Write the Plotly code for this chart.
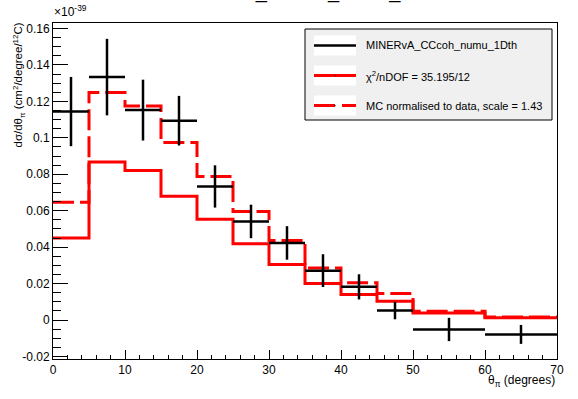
import plotly.graph_objects as go

# ---- data ----
bin_edges = [0, 5, 10, 15, 20, 25, 30, 35, 40, 45, 50, 60, 70]
data_y = [0.1144, 0.1333, 0.1152, 0.1094, 0.0733, 0.0541, 0.0423, 0.0271, 0.0182, 0.0052, -0.0052, -0.0079]
data_err = [0.0190, 0.0210, 0.0167, 0.0136, 0.0116, 0.0092, 0.0092, 0.0090, 0.0069, 0.0048, 0.0064, 0.0052]
mc_y = [0.0450, 0.0867, 0.0821, 0.0679, 0.0553, 0.0419, 0.0304, 0.0200, 0.0140, 0.0103, 0.0039, 0.0012]
mc_scaled_y = [0.0646, 0.1248, 0.1175, 0.0974, 0.0788, 0.0596, 0.0437, 0.0286, 0.0204, 0.0145, 0.0048, 0.0017]

y_tickvals = [-0.02, 0, 0.02, 0.04, 0.06, 0.08, 0.1, 0.12, 0.14, 0.16]
y_ticktext = ["-0.02", "0", "0.02", "0.04", "0.06", "0.08", "0.1", "0.12", "0.14", "0.16"]
x_tickvals = [0, 10, 20, 30, 40, 50, 60, 70]
x_ticktext = ["0", "10", "20", "30", "40", "50", "60", "70"]

legend_labels = ["MINERvA_CCcoh_numu_1Dth",
                 "χ<sup>2</sup>/nDOF = 35.195/12",
                 "MC normalised to data, scale = 1.43"]
title_text = "MINERvA_CCcoh_numu_1Dth"

FONT = "Liberation Sans, Arial, Helvetica, sans-serif"
W, H = 578, 399
L, R, T, B = 53, 21, 23, 40
PW, PH = W - L - R, H - T - B


def px_x(px):
    return (px - L) / PW


def px_y(py):
    return (H - B - py) / PH


centers = [(a + b) / 2 for a, b in zip(bin_edges[:-1], bin_edges[1:])]
halfw = [(b - a) / 2 for a, b in zip(bin_edges[:-1], bin_edges[1:])]

fig = go.Figure()

# MC histogram (solid)
fig.add_trace(go.Scatter(
    x=bin_edges, y=mc_y + [mc_y[-1]], mode="lines", line_shape="hv",
    line=dict(color="#ff0000", width=3), showlegend=False, hoverinfo="skip"))

# MC normalised (dashed)
fig.add_trace(go.Scatter(
    x=bin_edges, y=mc_scaled_y + [mc_scaled_y[-1]], mode="lines", line_shape="hv",
    line=dict(color="#ff0000", width=3, dash="21px,6px"), showlegend=False, hoverinfo="skip"))

# data crosses
fig.add_trace(go.Scatter(
    x=centers, y=data_y, mode="markers",
    marker=dict(size=1, color="black", opacity=0),
    error_x=dict(type="data", array=halfw, color="black", thickness=2.5, width=0),
    error_y=dict(type="data", array=data_err, color="black", thickness=2.5, width=0),
    showlegend=False, hoverinfo="skip"))

shapes = []
annotations = []

# legend box
shapes.append(dict(type="rect", xref="paper", yref="paper",
                   x0=px_x(305), x1=px_x(552), y0=px_y(120), y1=px_y(29),
                   fillcolor="#f0f0f0", line=dict(color="black", width=1)))
rows = [45.5, 75.5, 105.5]
for i, yc in enumerate(rows):
    shapes.append(dict(type="rect", xref="paper", yref="paper",
                       x0=px_x(314), x1=px_x(356), y0=px_y(yc + 10), y1=px_y(yc - 10),
                       fillcolor="white", line=dict(width=0)))
shapes.append(dict(type="line", xref="paper", yref="paper",
                   x0=px_x(314), x1=px_x(356), y0=px_y(rows[0]), y1=px_y(rows[0]),
                   line=dict(color="black", width=2.5)))
shapes.append(dict(type="line", xref="paper", yref="paper",
                   x0=px_x(314), x1=px_x(356), y0=px_y(rows[1]), y1=px_y(rows[1]),
                   line=dict(color="#ff0000", width=3)))
shapes.append(dict(type="line", xref="paper", yref="paper",
                   x0=px_x(314), x1=px_x(356), y0=px_y(rows[2]), y1=px_y(rows[2]),
                   line=dict(color="#ff0000", width=3, dash="21px,7px")))
for yc in rows[1:]:
    shapes.append(dict(type="rect", xref="paper", yref="paper",
                       x0=px_x(334.5), x1=px_x(335.5), y0=px_y(yc + 0.5), y1=px_y(yc - 0.5),
                       fillcolor="black", line=dict(width=0)))
for lab, yc in zip(legend_labels, rows):
    annotations.append(dict(xref="paper", yref="paper", x=px_x(364), y=px_y(yc),
                            xanchor="left", yanchor="middle", text=lab, showarrow=False,
                            font=dict(family=FONT, size=11, color="black")))

# title (mostly outside the canvas, as in the reference)
annotations.append(dict(xref="paper", yref="paper", x=0.5, y=px_y(5),
                        xanchor="center", yanchor="bottom", text=title_text, showarrow=False,
                        font=dict(family=FONT, size=20, color="black")))

# exponent label
annotations.append(dict(xref="paper", yref="paper", x=px_x(52), y=px_y(21),
                        xanchor="left", yanchor="bottom", text="×10<sup>-39</sup>", showarrow=False,
                        font=dict(family=FONT, size=12, color="black")))

# y title
annotations.append(dict(xref="paper", yref="paper", x=px_x(18), y=px_y(21),
                        xanchor="center", yanchor="top", textangle=-90,
                        text="dσ/dθ<sub>π</sub> (cm<sup>2</sup>/degree/<sup>12</sup>C)", showarrow=False,
                        font=dict(family=FONT, size=11.5, color="black")))

# x title
annotations.append(dict(xref="paper", yref="paper", x=px_x(557), y=px_y(381),
                        xanchor="right", yanchor="middle",
                        text="θ<sub>π</sub> (degrees)", showarrow=False,
                        font=dict(family=FONT, size=12, color="black")))

fig.update_layout(
    width=W, height=H,
    margin=dict(l=L, r=R, t=T, b=B, pad=0),
    paper_bgcolor="white", plot_bgcolor="white",
    font=dict(family=FONT, size=12, color="black"),
    shapes=shapes, annotations=annotations,
    hovermode=False,
    xaxis=dict(range=[0, 70], showgrid=False, zeroline=False,
               showline=True, mirror=True, linecolor="black", linewidth=1,
               tickmode="array", tickvals=x_tickvals, ticktext=x_ticktext,
               ticks="inside", ticklen=9, tickcolor="black", tickwidth=1,
               tickfont=dict(family=FONT, size=12, color="black"),
               minor=dict(tickmode="linear", tick0=0, dtick=2, ticks="inside",
                          ticklen=4.5, tickcolor="black", tickwidth=1, showgrid=False)),
    yaxis=dict(range=[-0.0214, 0.1630], showgrid=False, zeroline=False,
               showline=True, mirror=True, linecolor="black", linewidth=1,
               tickmode="array", tickvals=y_tickvals, ticktext=y_ticktext,
               ticks="inside", ticklen=15, tickcolor="black", tickwidth=1,
               tickfont=dict(family=FONT, size=12, color="black"),
               minor=dict(tickmode="linear", tick0=0, dtick=0.005, ticks="inside",
                          ticklen=7.5, tickcolor="black", tickwidth=1, showgrid=False)),
)

fig.write_html("out.html",
               config={"displayModeBar": False},
               post_script="document.body.style.margin='0';document.body.style.padding='0';")
